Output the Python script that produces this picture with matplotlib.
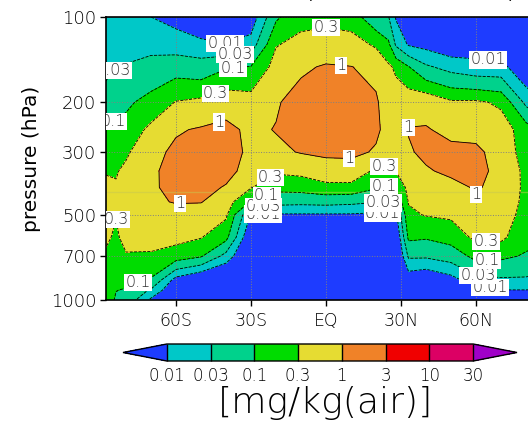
import numpy as np
import matplotlib
matplotlib.use("Agg")
import matplotlib.pyplot as plt
from matplotlib.colors import ListedColormap, BoundaryNorm

plt.rcParams['font.family'] = ['DejaVu Sans']
plt.rcParams['font.weight'] = 'light'

lat = [-88, -84, -80, -70, -60, -50, -40, -30, -20, -10, 0, 10, 20, 25, 28, 33, 40, 50, 60, 70, 80, 88]
pressure = [100, 125, 150, 200, 250, 300, 350, 400, 450, 500, 600, 700, 850, 925, 1000]

# zonal mean mixing ratio [mg/kg(air)], one list per pressure level (hPa)
q_100 = [0.0178, 0.0186, 0.0191, 0.01, 0.00708, 0.00316, 0.00251, 0.00501, 0.0832, 0.224, 0.224, 0.178,
         0.0447, 0.0316, 0.00891, 0.00251, 0.00158, 0.00158, 0.00158, 0.002, 0.00251, 0.002]
q_125 = [0.0224, 0.024, 0.0224, 0.0191, 0.0166, 0.0141, 0.0105, 0.0158, 0.282, 0.398, 0.501, 0.501,
         0.251, 0.126, 0.0251, 0.00891, 0.00708, 0.00447, 0.00562, 0.00398, 0.00316, 0.00251]
q_150 = [0.0224, 0.0302, 0.0316, 0.0501, 0.0631, 0.0501, 0.0891, 0.105, 0.447, 0.832, 1.12, 1.02,
         0.794, 0.355, 0.251, 0.105, 0.0355, 0.02, 0.0141, 0.0141, 0.00398, 0.00316]
q_200 = [0.0501, 0.0708, 0.0832, 0.141, 0.316, 0.398, 0.631, 0.501, 0.891, 1.58, 2.0, 2.0,
         1.12, 0.631, 0.501, 0.631, 0.708, 0.355, 0.355, 0.251, 0.0224, 0.0098]
q_250 = [0.107, 0.126, 0.141, 0.398, 0.891, 1.12, 1.32, 0.794, 1.05, 1.78, 2.0, 2.0,
         1.2, 0.708, 0.631, 1.05, 1.07, 0.794, 0.708, 0.501, 0.178, 0.0631]
q_300 = [0.191, 0.209, 0.251, 0.708, 1.26, 1.66, 1.58, 0.794, 0.794, 1.07, 1.26, 1.32,
         0.891, 0.501, 0.501, 0.891, 1.26, 1.26, 1.26, 0.631, 0.178, 0.141]
q_350 = [0.275, 0.275, 0.38, 0.851, 1.41, 1.78, 1.58, 0.562, 0.355, 0.398, 0.562, 0.562,
         0.251, 0.24, 0.316, 0.562, 0.891, 1.26, 1.32, 0.759, 0.224, 0.178]
q_400 = [0.398, 0.331, 0.501, 0.891, 1.26, 1.58, 0.891, 0.316, 0.141, 0.158, 0.224, 0.224,
         0.112, 0.0891, 0.112, 0.417, 0.631, 0.708, 1.12, 0.708, 0.234, 0.191]
q_450 = [0.468, 0.347, 0.603, 0.832, 1.07, 1.05, 0.501, 0.0891, 0.0447, 0.0417, 0.0447, 0.0398,
         0.0316, 0.0355, 0.0398, 0.316, 0.447, 0.447, 0.891, 0.631, 0.224, 0.178]
q_500 = [0.479, 0.316, 0.631, 0.708, 0.631, 0.562, 0.355, 0.00891, 0.00891, 0.00891, 0.00891, 0.00891,
         0.00794, 0.00891, 0.00794, 0.251, 0.316, 0.355, 0.501, 0.501, 0.209, 0.158]
q_600 = [0.38, 0.24, 0.468, 0.501, 0.417, 0.316, 0.141, 0.00316, 0.00316, 0.00316, 0.00316, 0.00316,
         0.00316, 0.00251, 0.00316, 0.126, 0.112, 0.158, 0.38, 0.38, 0.141, 0.112]
q_700 = [0.24, 0.2, 0.263, 0.251, 0.178, 0.112, 0.02, 0.002, 0.002, 0.002, 0.002, 0.002,
         0.002, 0.00158, 0.002, 0.0355, 0.0355, 0.0501, 0.141, 0.126, 0.0891, 0.0708]
q_850 = [0.191, 0.141, 0.132, 0.0891, 0.00631, 0.00251, 0.00158, 0.00126, 0.00126, 0.00126, 0.00126, 0.00126,
         0.00126, 0.00126, 0.00126, 0.00447, 0.00316, 0.00631, 0.02, 0.0251, 0.0251, 0.02]
q_925 = [0.178, 0.102, 0.0912, 0.0251, 0.00316, 0.00158, 0.00126, 0.001, 0.001, 0.001, 0.001, 0.001,
         0.001, 0.001, 0.001, 0.002, 0.00158, 0.00158, 0.00398, 0.0095, 0.0095, 0.00891]
q_1000 = [0.166, 0.0891, 0.0708, 0.00794, 0.00251, 0.00126, 0.001, 0.001, 0.001, 0.001, 0.001, 0.001,
          0.001, 0.001, 0.001, 0.00126, 0.00126, 0.00126, 0.00251, 0.00631, 0.00631, 0.00501]

levels = [0.01, 0.03, 0.1, 0.3, 1, 3, 10, 30]
level_names = ['0.01', '0.03', '0.1', '0.3', '1', '3', '10', '30']
band_colors = ['#00c8c8', '#00d28c', '#00dc00', '#e6dc32', '#f08228', '#f00000', '#dc0064']
under_color = '#1e3cff'
over_color = '#a000c8'

lat_ticks = [-60, -30, 0, 30, 60]
lat_names = ['60S', '30S', 'EQ', '30N', '60N']
p_ticks = [100, 200, 300, 500, 700, 1000]

# where each contour value gets its label (lat, hPa)
label_spots = {
    0.01: [(-40.4, 125.6), (-25.2, 481), (22.8, 481), (64.8, 142), (65.6, 906)],
    0.03: [(-36.4, 138.5), (-84.4, 164), (-25.2, 454), (22.8, 450), (60.4, 835)],
    0.1: [(-37.2, 151.4), (-84.8, 239), (-77.6, 850), (-25.2, 395), (22.8, 386), (64.4, 733)],
    0.3: [(-44.4, 178.2), (-84.8, 481), (0, 111), (-25.2, 326), (22.8, 320), (64, 640)],
    1: [(-43.2, 218.3), (6, 144), (9.2, 320), (-58.4, 461), (32.4, 237), (61.6, 433)],
}

q = np.array([q_100, q_125, q_150, q_200, q_250, q_300, q_350, q_400,
              q_450, q_500, q_600, q_700, q_850, q_925, q_1000])
logq = np.log10(q)
log_levels = np.log10(levels)

cmap = ListedColormap(band_colors)
cmap.set_under(under_color)
cmap.set_over(over_color)
norm = BoundaryNorm(log_levels, cmap.N)

fig = plt.figure(figsize=(5.28, 4.24), dpi=100)
ax = fig.add_axes([106 / 528, 124 / 424, 440 / 528, 283 / 424])

cf = ax.contourf(lat, pressure, logq, levels=log_levels, cmap=cmap, norm=norm, extend='both')

ax.axhline(415, color='#c8c850', lw=1.0, alpha=0.5, zorder=1.6)

# one line set per value so each label lands on its own contour
for idx, lev in enumerate(levels):
    cs = ax.contour(lat, pressure, logq, levels=[log_levels[idx]], colors='black', linewidths=0.6)
    spots = label_spots.get(lev)
    if not spots:
        continue
    texts = ax.clabel(cs, manual=spots, inline=False, fmt={cs.levels[0]: level_names[idx]},
                      fontsize=11.5, colors='#333333')
    for t in texts:
        t.set_rotation(0)
        t.set_zorder(3 + 0.1 * idx)
        t.set_bbox(dict(facecolor='white', edgecolor='none', pad=0.8))
        t.set_clip_on(True)
        t.set_clip_path(ax.patch)

ax.set_yscale('log')
ax.set_ylim(1000, 100)
ax.set_xlim(-88, 88)
ax.set_yticks(p_ticks)
ax.set_yticklabels([str(p) for p in p_ticks])
ax.yaxis.set_minor_locator(matplotlib.ticker.NullLocator())
ax.set_xticks(lat_ticks)
ax.set_xticklabels(lat_names)
ax.tick_params(direction='out', length=4, width=1, labelsize=13, pad=3)
ax.tick_params(axis='x', labelsize=12.5, pad=5)
ax.grid(True, linestyle=':', color='#808080', linewidth=0.7)
for sp in ax.spines.values():
    sp.set_linewidth(1.2)
ax.set_ylabel('pressure (hPa)', fontsize=14.5, labelpad=7)

# title line sits mostly above the canvas
fig.text(309 / 528, 1 + 3 / 424, '(', fontsize=22, ha='center', va='baseline')
fig.text(512 / 528, 1 + 3 / 424, ')', fontsize=22, ha='center', va='baseline')

cax = fig.add_axes([123 / 528, 63 / 424, 394 / 528, 17 / 424])
cb = fig.colorbar(cf, cax=cax, orientation='horizontal', extendfrac=1 / 7,
                  drawedges=True, ticks=log_levels)
cb.set_ticklabels(level_names)
cb.ax.tick_params(length=0, labelsize=12, pad=4)
cb.outline.set_linewidth(1.0)
cb.dividers.set_linewidth(1.0)
fig.text(326 / 528, 1 - 403 / 424, '[mg/kg(air)]', fontsize=26, ha='center', va='center')

fig.savefig('out.png', dpi=100)
